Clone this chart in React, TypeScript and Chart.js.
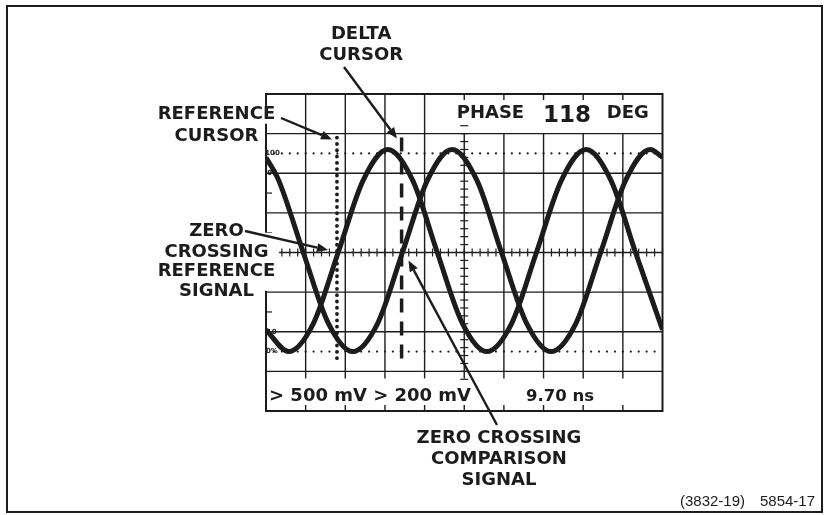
import React, { useEffect, useRef } from "react";
import { Chart, registerables } from "chart.js";

Chart.register(...registerables);

// ---- Graticule (divisions) ----
const xDivisions = [0, 1, 2, 3, 4, 5, 6, 7, 8, 9, 10];
const yDivisions = [-4, -3, -2, -1, 0, 1, 2, 3, 4];

// ---- Reference signal (divisions) ----
const referenceX = [0, 0.57, 1.2, 1.82, 2.45, 3.07, 3.7, 4.32, 4.95, 5.57, 6.2, 6.82, 7.45, 8.07, 8.7, 9.32, 10];
const referenceY = [-1.95, -2.5, -1.78, 0, 1.82, 2.6, 1.82, 0, -1.78, -2.5, -1.78, 0, 1.82, 2.6, 1.82, 0, -1.95];

// ---- Comparison signal ----
const comparisonX = [0, 0.32, 0.94, 1.57, 2.19, 2.82, 3.44, 4.07, 4.69, 5.32, 5.94, 6.57, 7.19, 7.82, 8.44, 9.07, 9.69, 10];
const comparisonY = [2.4, 1.82, 0, -1.78, -2.5, -1.78, 0, 1.82, 2.6, 1.82, 0, -1.78, -2.5, -1.78, 0, 1.82, 2.6, 2.4];

// ---- Cursors ----
const referenceCursorX = 1.79;
const referenceCursorSpan = [2.9, -2.75];
const deltaCursorX = 3.42;
const deltaCursorSpan = [2.9, -2.8];

// ---- Readouts ----
const phaseLabel = "PHASE";
const phaseValue = "118";
const phaseUnit = "DEG";
const scaleReadout = "> 500 mV > 200 mV";
const timeReadout = "9.70 ns";
const percentLabels = [
  { text: "100", x: -0.02, y: 2.51 },
  { text: "90", x: 0.03, y: 2.0 },
  { text: "10", x: 0.02, y: -2.0 },
  { text: "0%", x: 0.0, y: -2.5 },
];

// ---- Callouts (positions in division units) ----
const callouts = [
  { lines: ["REFERENCE", "CURSOR"], x: -1.25, y: [3.483, 2.932] },
  { lines: ["ZERO", "CROSSING", "REFERENCE", "SIGNAL"], x: -1.25, y: [0.525, 0.013, -0.485, -0.989] },
  { lines: ["DELTA", "CURSOR"], x: 2.4, y: [5.514, 4.972] },
  { lines: ["ZERO CROSSING", "COMPARISON", "SIGNAL"], x: 5.876, y: [-4.689, -5.229, -5.741] },
];
const arrows = [
  { from: [0.378, 3.394], to: [1.665, 2.852] },
  { from: [-0.53, 0.543], to: [1.564, 0.063] },
  { from: [1.967, 4.681], to: [3.304, 2.877] },
  { from: [5.826, -4.353], to: [3.594, -0.202] },
];
const knockouts = [
  { x0: -2.8, x1: 0.33, y0: 3.7, y1: 3.25 },
  { x0: -2.9, x1: 0.33, y0: 0.5, y1: -0.97 },
];
const figureCode = ["(3832-19)", "5854-17"];

const INK = "#1c1c1c";

function App() {
  const canvasRef = useRef<HTMLCanvasElement | null>(null);

  useEffect(() => {
    const canvas = canvasRef.current;
    if (!canvas) return;

    const graticule = {
      id: "graticule",
      beforeDatasetsDraw(chart: any) {
        const { ctx, scales } = chart;
        const X = (v: number) => scales.x.getPixelForValue(v);
        const Y = (v: number) => scales.y.getPixelForValue(v);
        const line = (x0: number, y0: number, x1: number, y1: number) => {
          ctx.beginPath();
          ctx.moveTo(x0, y0);
          ctx.lineTo(x1, y1);
          ctx.stroke();
        };
        ctx.save();
        ctx.fillStyle = "#fff";
        ctx.fillRect(0, 0, chart.width, chart.height);
        ctx.strokeStyle = INK;
        ctx.lineWidth = 1.4;
        const xmin = xDivisions[0], xmax = xDivisions[xDivisions.length - 1];
        const ymin = yDivisions[0], ymax = yDivisions[yDivisions.length - 1];
        const xmid = (xmin + xmax) / 2;
        for (const v of yDivisions) {
          if (v > ymin && v < ymax) line(X(xmin), Y(v), X(xmax), Y(v));
        }
        for (const v of xDivisions) {
          if (v <= xmin || v >= xmax) continue;
          line(X(v), Y(ymax - 1), X(v), Y(ymin + 1));
          if (v < xmid) line(X(v), Y(ymax), X(v), Y(ymax - 1));
          else line(X(v), Y(ymax), X(v), Y(ymax) + 6);
          line(X(v), Y(ymin + 1), X(v), Y(ymin + 1) + 7);
          line(X(v), Y(ymin) - 6, X(v), Y(ymin));
        }
        // minor ticks on centre axes
        ctx.lineWidth = 1.2;
        for (let i = 0; i <= 50; i++) {
          const v = xmin + i * 0.2;
          line(X(v), Y(0) - 4, X(v), Y(0) + 4);
        }
        for (let i = -16; i <= 16; i++) {
          const v = i * 0.2;
          line(X(xmid) - 4, Y(v), X(xmid) + 4, Y(v));
        }
        // half-division ticks on left frame
        for (const v of [-1.5, -0.5, 0.5, 1.5]) line(X(xmin), Y(v), X(xmin) + 6, Y(v));
        // dotted 0% / 100% lines
        ctx.fillStyle = INK;
        for (let i = 1; i < 50; i++) {
          const v = xmin + i * 0.2;
          for (const lv of [2.5, -2.5]) {
            ctx.beginPath();
            ctx.arc(X(v), Y(lv), 1.1, 0, Math.PI * 2);
            ctx.fill();
          }
        }
        // frame
        ctx.lineWidth = 2;
        ctx.strokeRect(X(xmin), Y(ymax), X(xmax) - X(xmin), Y(ymin) - Y(ymax));
        // label knockouts
        ctx.fillStyle = "#fff";
        for (const k of knockouts) {
          ctx.fillRect(X(k.x0), Y(k.y0), X(k.x1) - X(k.x0), Y(k.y1) - Y(k.y0));
        }
        ctx.restore();
      },
      afterDatasetsDraw(chart: any) {
        const { ctx, scales } = chart;
        const X = (v: number) => scales.x.getPixelForValue(v);
        const Y = (v: number) => scales.y.getPixelForValue(v);
        ctx.save();
        ctx.fillStyle = INK;
        ctx.strokeStyle = INK;
        // percent labels
        ctx.font = "bold 7px 'DejaVu Sans'";
        ctx.textAlign = "left";
        ctx.textBaseline = "middle";
        for (const p of percentLabels) ctx.fillText(p.text, X(p.x), Y(p.y));
        // callouts
        ctx.font = "bold 18px 'DejaVu Sans'";
        ctx.textAlign = "center";
        ctx.textBaseline = "middle";
        for (const c of callouts) {
          c.lines.forEach((t, i) => ctx.fillText(t, X(c.x), Y(c.y[i])));
        }
        // arrows
        ctx.lineWidth = 2.4;
        for (const a of arrows) {
          const x0 = X(a.from[0]), y0 = Y(a.from[1]);
          const x1 = X(a.to[0]), y1 = Y(a.to[1]);
          const ang = Math.atan2(y1 - y0, x1 - x0);
          const hl = 11, hw = 4.5;
          const bx = x1 - hl * Math.cos(ang), by = y1 - hl * Math.sin(ang);
          ctx.beginPath();
          ctx.moveTo(x0, y0);
          ctx.lineTo(bx, by);
          ctx.stroke();
          ctx.beginPath();
          ctx.moveTo(x1, y1);
          ctx.lineTo(bx + hw * Math.sin(ang), by - hw * Math.cos(ang));
          ctx.lineTo(bx - hw * Math.sin(ang), by + hw * Math.cos(ang));
          ctx.closePath();
          ctx.fill();
        }
        // readouts
        ctx.textAlign = "left";
        ctx.textBaseline = "alphabetic";
        ctx.font = "bold 18px 'DejaVu Sans'";
        ctx.fillText(phaseLabel, X(4.81), Y(3.387));
        ctx.fillText(phaseUnit, X(8.593), Y(3.387));
        ctx.font = "bold 23px 'DejaVu Sans'";
        ctx.fillText(phaseValue, X(6.986), Y(3.301));
        ctx.font = "bold 18px 'DejaVu Sans'";
        ctx.fillText(scaleReadout, X(0.076), Y(-3.748));
        ctx.font = "bold 16.5px 'DejaVu Sans'";
        ctx.fillText(timeReadout, X(6.557), Y(-3.748));
        // figure code + outer border
        ctx.font = "15px 'Liberation Sans'";
        ctx.fillText(figureCode[0], 680, 506);
        ctx.fillText(figureCode[1], 760, 506);
        ctx.lineWidth = 2;
        ctx.strokeRect(7, 6, 815, 506);
        ctx.restore();
      },
    };

    const chart = new Chart(canvas, {
      type: "line",
      data: {
        datasets: [
          {
            label: "Reference",
            data: referenceX.map((x, i) => ({ x, y: referenceY[i] })),
            borderColor: INK,
            borderWidth: 5,
            pointRadius: 0,
            cubicInterpolationMode: "monotone",
            fill: false,
          },
          {
            label: "Comparison",
            data: comparisonX.map((x, i) => ({ x, y: comparisonY[i] })),
            borderColor: INK,
            borderWidth: 5,
            pointRadius: 0,
            cubicInterpolationMode: "monotone",
            fill: false,
          },
          {
            label: "Reference cursor",
            data: referenceCursorSpan.map((y) => ({ x: referenceCursorX, y })),
            borderColor: INK,
            borderWidth: 3.8,
            borderDash: [0.1, 6.2],
            borderCapStyle: "round",
            pointRadius: 0,
          },
          {
            label: "Delta cursor",
            data: deltaCursorSpan.map((y) => ({ x: deltaCursorX, y })),
            borderColor: INK,
            borderWidth: 3.5,
            borderDash: [14, 9],
            pointRadius: 0,
          },
        ],
      },
      options: {
        responsive: false,
        animation: false,
        devicePixelRatio: 1,
        layout: { padding: { left: 266, top: 94, right: 164.5, bottom: 104 } },
        scales: {
          x: { type: "linear", min: 0, max: 10, display: false },
          y: { type: "linear", min: -4, max: 4, display: false },
        },
        plugins: { legend: { display: false }, tooltip: { enabled: false } },
        events: [],
      },
      plugins: [graticule],
    } as any);

    return () => chart.destroy();
  }, []);

  return (
    <div style={{ position: "fixed", left: 0, top: 0, width: 827, height: 515, background: "#fff" }}>
      <canvas ref={canvasRef} width={827} height={515} />
    </div>
  );
}

export default App;
